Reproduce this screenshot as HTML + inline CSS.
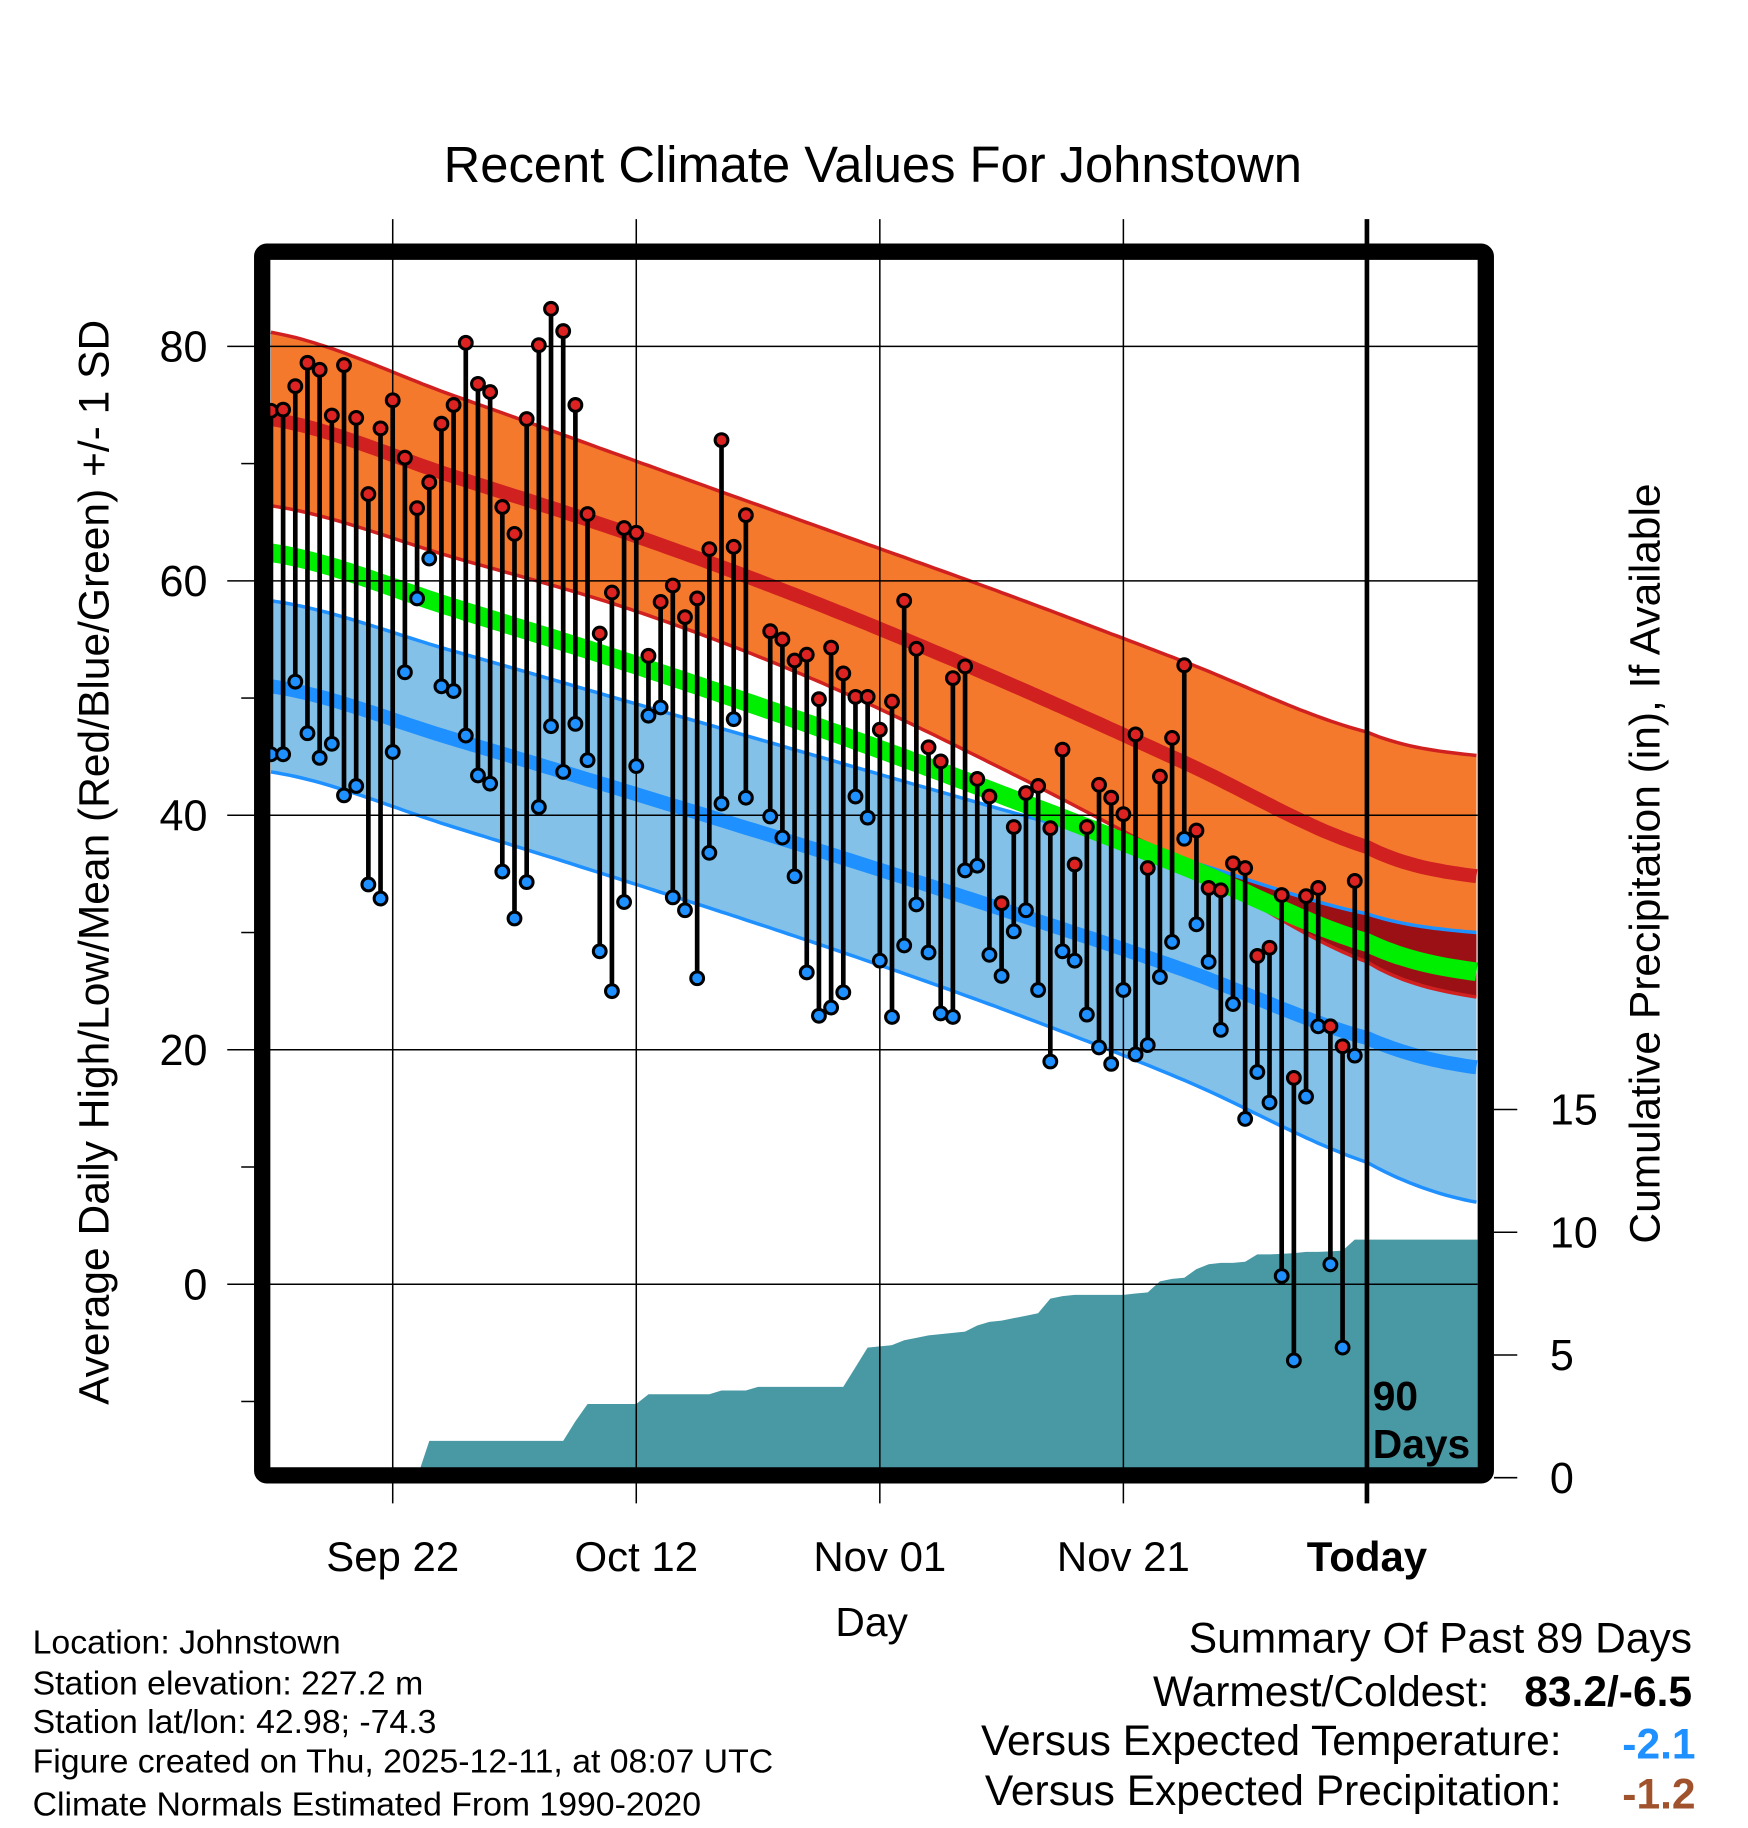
<!DOCTYPE html>
<html><head><meta charset="utf-8"><style>
html,body{margin:0;padding:0;background:#fff;}
svg{display:block;font-family:"Liberation Sans",Arial,sans-serif;}
</style></head><body>
<svg id="chart" width="1748" height="1828" viewBox="0 0 1500 1568.6" preserveAspectRatio="none" xmlns="http://www.w3.org/2000/svg">
<rect x="0" y="0" width="1500" height="1568.6" fill="#fff"/>
<text x="749" y="156" font-size="43.5" text-anchor="middle">Recent Climate Values For Johnstown</text>
<defs><clipPath id="plotclip"><rect x="232" y="223" width="1036" height="1037"/></clipPath></defs>
<g id="plot" clip-path="url(#plotclip)"></g>
<g id="axes"></g>
<rect x="225" y="216" width="1050" height="1050" rx="4" fill="none" stroke="#000" stroke-width="14"/>
<text transform="translate(93,740) rotate(-90)" font-size="36.5" text-anchor="middle">Average Daily High/Low/Mean (Red/Blue/Green) +/- 1 SD</text>
<text transform="translate(1424,741) rotate(-90)" font-size="36.5" text-anchor="middle">Cumulative Precipitation (in), If Available</text>
<text x="748" y="1404" font-size="35" text-anchor="middle">Day</text>
<text x="1178" y="1210" font-size="35" font-weight="bold">90</text>
<text x="1178" y="1251" font-size="35" font-weight="bold">Days</text>
<g font-size="29">
<text x="28" y="1419">Location: Johnstown</text>
<text x="28" y="1454">Station elevation: 227.2 m</text>
<text x="28" y="1487">Station lat/lon: 42.98; -74.3</text>
<text x="28" y="1521">Figure created on Thu, 2025-12-11, at 08:07 UTC</text>
<text x="28" y="1558">Climate Normals Estimated From 1990-2020</text>
</g>
<g font-size="36.5">
<text x="1452" y="1418" text-anchor="end">Summary Of Past 89 Days</text>
<text x="1278" y="1464" text-anchor="end">Warmest/Coldest:</text>
<text x="1452" y="1464" text-anchor="end" font-weight="bold">83.2/-6.5</text>
<text x="1340" y="1506" text-anchor="end">Versus Expected Temperature:</text>
<text x="1455" y="1509" text-anchor="end" font-weight="bold" fill="#1e90ff">-2.1</text>
<text x="1340" y="1549" text-anchor="end">Versus Expected Precipitation:</text>
<text x="1455" y="1552" text-anchor="end" font-weight="bold" fill="#a0522d">-1.2</text>
</g>
</svg>
<script>
// ---- data ----
var highs = [74.5,74.6,76.6,78.6,78.0,74.1,78.4,73.9,67.4,73.0,75.4,70.5,66.2,68.4,73.4,75.0,80.3,76.8,76.1,66.3,64.0,73.8,80.1,83.2,81.3,75.0,65.7,55.5,59.0,64.5,64.1,53.6,58.2,59.6,56.9,58.5,62.7,72.0,62.9,65.6,null,55.7,55.0,53.2,53.7,49.9,54.3,52.1,50.1,50.1,47.3,49.7,58.3,54.2,45.8,44.6,51.7,52.7,43.1,41.6,32.5,39.0,41.9,42.5,38.9,45.6,35.8,39.0,42.6,41.5,40.1,46.9,35.5,43.3,46.6,52.8,38.7,33.8,33.6,35.9,35.5,28.0,28.7,33.2,17.6,33.1,33.8,22.0,20.3,34.4];
var lows = [45.2,45.2,51.4,47.0,44.9,46.1,41.7,42.5,34.1,32.9,45.4,52.2,58.5,61.9,51.0,50.6,46.8,43.4,42.7,35.2,31.2,34.3,40.7,47.6,43.7,47.8,44.7,28.4,25.0,32.6,44.2,48.5,49.2,33.0,31.9,26.1,36.8,41.0,48.2,41.5,null,39.9,38.1,34.8,26.6,22.9,23.6,24.9,41.6,39.8,27.6,22.8,28.9,32.4,28.3,23.1,22.8,35.3,35.7,28.1,26.3,30.1,31.9,25.1,19.0,28.4,27.6,23.0,20.2,18.8,25.1,19.6,20.4,26.2,29.2,38.0,30.7,27.5,21.7,23.9,14.1,18.1,15.5,0.7,-6.5,16.0,22.0,1.7,-5.4,19.5];
var precipCum = [0,0,0,0,0,0,0,0,0,0,0,0,0,1.5,1.5,1.5,1.5,1.5,1.5,1.5,1.5,1.5,1.5,1.5,1.5,2.3,3.0,3.0,3.0,3.0,3.0,3.4,3.4,3.4,3.4,3.4,3.4,3.55,3.55,3.55,3.7,3.7,3.7,3.7,3.7,3.7,3.7,3.7,4.5,5.3,5.35,5.4,5.6,5.7,5.8,5.85,5.9,5.95,6.2,6.35,6.4,6.5,6.6,6.7,7.3,7.4,7.45,7.45,7.45,7.45,7.45,7.5,7.55,8.0,8.1,8.15,8.5,8.7,8.75,8.75,8.8,9.1,9.1,9.12,9.15,9.2,9.2,9.22,9.25,9.7];
var normalDays = [0,15,30,45,60,75,90,99];
var normalHigh = [73.8,68.9,63.8,58.0,51.5,44.5,37.3,34.8];
var normalHighSD = [7.4,6.9,6.4,6.6,7.5,8.6,9.8,10.3];
var normalLow = [51.0,46.5,41.8,37.0,32.0,26.8,21.0,18.5];
var normalLowSD = [7.3,7.5,7.7,8.0,8.5,9.4,10.6,11.5];
var yTicks = [0,20,40,60,80];
var yMinorTicks = [-10,10,30,50,70];
var precipTicks = [0,5,10,15];
var xTickDays = [10,30,50,70,90];
var xTickLabels = ["Sep 22","Oct 12","Nov 01","Nov 21","Today"];

// ---- axis functions ----
function X(d){return 232.5+10.45*d;}
function Y(v){return 1102-10.06*v;}
function YP(p){return 1268-21.06*p;}
var NS="http://www.w3.org/2000/svg";
function mk(tag,attrs,parent){var e=document.createElementNS(NS,tag);for(var k in attrs)e.setAttribute(k,attrs[k]);parent.appendChild(e);return e;}
function interp(arr,d){
  // smooth (Catmull-Rom) interpolation through anchor values
  var n=normalDays.length;
  for(var i=0;i<n-1;i++){
    if(d<=normalDays[i+1]){
      var t=(d-normalDays[i])/(normalDays[i+1]-normalDays[i]);
      var p0=arr[Math.max(i-1,0)],p1=arr[i],p2=arr[i+1],p3=arr[Math.min(i+2,n-1)];
      var t2=t*t,t3=t2*t;
      return 0.5*((2*p1)+(-p0+p2)*t+(2*p0-5*p1+4*p2-p3)*t2+(-p0+3*p1-3*p2+p3)*t3);
    }
  }
  return arr[n-1];
}
function curve(fn){var pts=[];for(var d=0;d<=99;d+=0.5){pts.push([X(d),Y(fn(d))]);}return pts;}
function ptsStr(p){return p.map(function(q){return q[0].toFixed(1)+","+q[1].toFixed(1);}).join(" ");}
var plot=document.getElementById('plot');
var axes=document.getElementById('axes');

// precip fill
var pp=[[X(0),1262]];
for(var i=0;i<precipCum.length;i++){pp.push([X(i),YP(precipCum[i])]);}
pp.push([1270,YP(precipCum[precipCum.length-1])]);pp.push([1270,1262]);
var pf=mk('polygon',{points:ptsStr(pp),fill:'#4899a4'},plot);



function hTop(d){return interp(normalHigh,d)+interp(normalHighSD,d);}
function hBot(d){return interp(normalHigh,d)-interp(normalHighSD,d);}
function lTop(d){return interp(normalLow,d)+interp(normalLowSD,d);}
function lBot(d){return interp(normalLow,d)-interp(normalLowSD,d);}
function hMean(d){return interp(normalHigh,d);}
function lMean(d){return interp(normalLow,d);}
function avg(d){return (interp(normalHigh,d)+interp(normalLow,d))/2;}

var ht=curve(hTop),hb=curve(hBot),lt=curve(lTop),lb=curve(lBot);
var ob=mk('polygon',{points:ptsStr(ht.concat(hb.slice().reverse())),fill:'#f5792d'},plot);


var bb=mk('polygon',{points:ptsStr(lt.concat(lb.slice().reverse())),fill:'#83c1e8'},plot);


var ovTop=curve(function(d){return Math.max(lTop(d),hBot(d));});
var ov=mk('polygon',{points:ptsStr(ovTop.concat(hb.slice().reverse())),fill:'#9b1015'},plot);


[[ht,'#d02020',3,'high-sd-upper'],[hb,'#d02020',3,'high-sd-lower'],[lt,'#1e90ff',3,'low-sd-upper'],[lb,'#1e90ff',3,'low-sd-lower'],[curve(hMean),'#d02020',12,'normal-high-line'],[curve(lMean),'#1e90ff',12,'normal-low-line'],[curve(avg),'#00ee00',16,'normal-mean-line']].forEach(function(c){
  var l=mk('polyline',{points:ptsStr(c[0]),fill:'none',stroke:c[1],'stroke-width':c[2]},plot);
  
  
});

// gridlines
yTicks.forEach(function(v){
  var g=mk('line',{x1:195,x2:1268,y1:Y(v),y2:Y(v),stroke:'#000','stroke-width':1.3},axes);
  
  
  var t=mk('text',{x:178,y:Y(v)+13,'font-size':37,'text-anchor':'end'},axes);
  t.textContent=String(v);
  
  
});
yMinorTicks.forEach(function(v){
  var g=mk('line',{x1:207,x2:220,y1:Y(v),y2:Y(v),stroke:'#000','stroke-width':1.3},axes);
  
  
});
xTickDays.forEach(function(d,i){
  var today=xTickLabels[i]==='Today';
  var g=mk('line',{x1:X(d),x2:X(d),y1:188,y2:1290,stroke:'#000','stroke-width':today?4:1.3},axes);
  
  
  var t=mk('text',{x:X(d),y:1348,'font-size':36,'text-anchor':'middle','font-weight':today?'bold':'normal'},axes);
  t.textContent=xTickLabels[i];
  
  
});
precipTicks.forEach(function(p){
  var g=mk('line',{x1:1282,x2:1302,y1:YP(p),y2:YP(p),stroke:'#000','stroke-width':1.3},axes);
  
  
  var t=mk('text',{x:1330,y:YP(p)+13,'font-size':37},axes);
  t.textContent=String(p);
  
  
});

// daily stems and points
for(var d=0;d<highs.length;d++){
  if(highs[d]===null||lows[d]===null)continue;
  var s=mk('line',{x1:X(d),x2:X(d),y1:Y(highs[d]),y2:Y(lows[d]),stroke:'#000','stroke-width':4},axes);
  
  
}
for(var d=0;d<highs.length;d++){
  if(highs[d]===null)continue;
  var h=mk('circle',{cx:X(d),cy:Y(highs[d]),r:5.5,fill:'#dd2222',stroke:'#000','stroke-width':2.6},axes);
  
  
  var l=mk('circle',{cx:X(d),cy:Y(lows[d]),r:5.5,fill:'#1e90ff',stroke:'#000','stroke-width':2.6},axes);
  
  
}
</script>
</body></html>
